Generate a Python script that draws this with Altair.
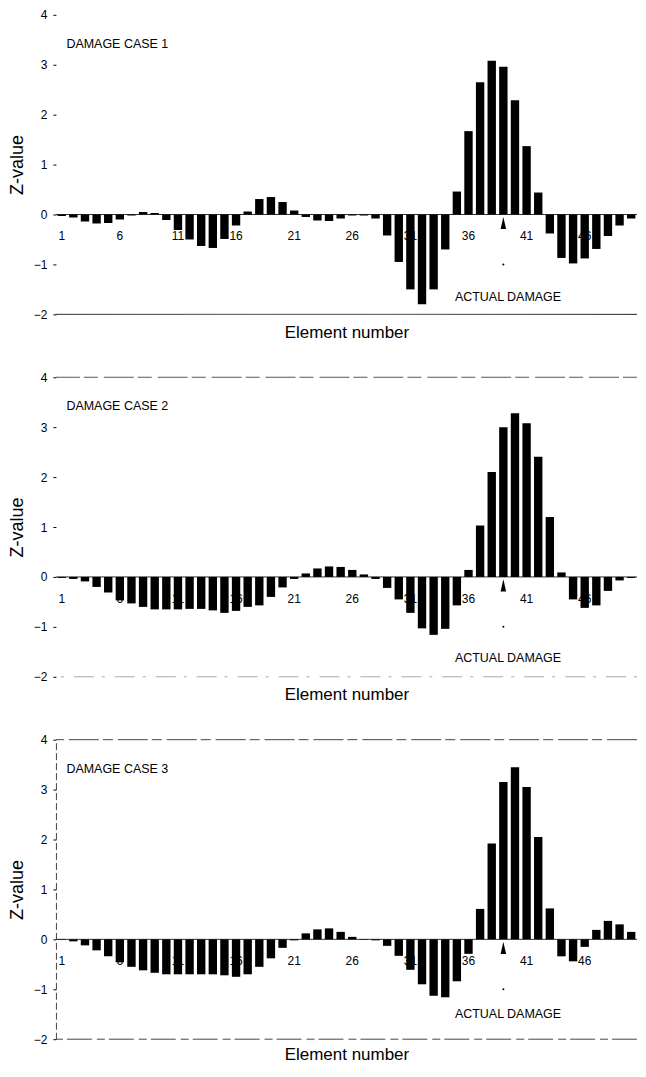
import altair as alt
import pandas as pd

# ---------------- data ----------------
elements = list(range(1, 51))

case1 = [-0.03, -0.06, -0.14, -0.18, -0.17, -0.10, -0.02, 0.05, 0.03, -0.11,
         -0.31, -0.50, -0.63, -0.67, -0.49, -0.22, 0.06, 0.31, 0.35, 0.25,
         0.08, -0.05, -0.12, -0.13, -0.08, -0.02, -0.02, -0.08, -0.42, -0.95,
         -1.50, -1.80, -1.50, -0.70, 0.46, 1.67, 2.65, 3.08, 2.96, 2.29,
         1.37, 0.44, -0.38, -0.87, -0.98, -0.88, -0.69, -0.43, -0.22, -0.08]

case2 = [-0.02, -0.04, -0.09, -0.20, -0.31, -0.47, -0.53, -0.60, -0.65, -0.65,
         -0.65, -0.64, -0.64, -0.67, -0.72, -0.68, -0.60, -0.57, -0.40, -0.21,
         -0.04, 0.07, 0.17, 0.21, 0.20, 0.14, 0.05, -0.04, -0.22, -0.45,
         -0.72, -1.03, -1.16, -1.04, -0.57, 0.14, 1.03, 2.10, 3.00, 3.28,
         3.08, 2.41, 1.20, 0.09, -0.45, -0.62, -0.57, -0.28, -0.07, -0.02]

case3 = [-0.01, -0.04, -0.12, -0.22, -0.34, -0.46, -0.55, -0.62, -0.67, -0.70,
         -0.70, -0.70, -0.70, -0.70, -0.72, -0.75, -0.70, -0.55, -0.38, -0.17,
         -0.02, 0.12, 0.20, 0.22, 0.15, 0.05, -0.01, -0.02, -0.13, -0.33,
         -0.61, -0.90, -1.13, -1.16, -0.84, -0.29, 0.61, 1.92, 3.15, 3.45,
         3.05, 2.05, 0.62, -0.34, -0.44, -0.15, 0.19, 0.37, 0.30, 0.15]

case_labels = ["DAMAGE CASE 1", "DAMAGE CASE 2", "DAMAGE CASE 3"]
tick_elements = [1, 6, 11, 16, 21, 26, 31, 36, 41, 46]
y_ticks = [-2, -1, 0, 1, 2, 3, 4]

damage_element = 39
damage_text = "ACTUAL DAMAGE"
damage_text_x = 39.4
damage_text_y = [-1.65, -1.62, -1.5]
case_label_x = 1.4
case_label_y = 3.42

FONT = "Liberation Sans"
W, H = 582, 300

x_scale = alt.Scale(domain=[0.5, 50.5], nice=False, zero=False)
y_scale = alt.Scale(domain=[-2, 4], nice=False, zero=False)


def make_panel(values, label, text_y, top_style, bottom_style, left_line, title_pad):
    x_axis = alt.Axis(title="Element number", labels=False, ticks=False,
                      domain=False, grid=False, titleFont=FONT,
                      titleFontSize=17, titleFontWeight="normal",
                      titleColor="black", titlePadding=title_pad)
    y_axis = alt.Axis(title="Z-value", values=y_ticks, grid=False,
                      domain=left_line, domainDash=[7, 3], domainColor="#444",
                      tickSize=3, tickColor="black", labelFont=FONT,
                      labelFontSize=12, labelColor="black", labelPadding=6,
                      titleFont=FONT, titleFontSize=18,
                      titleFontWeight="normal", titleColor="black",
                      titlePadding=7)

    X = lambda f: alt.X(f, scale=x_scale, axis=x_axis)
    Y = lambda f: alt.Y(f, scale=y_scale, axis=y_axis)

    bars_df = pd.DataFrame({"element": elements, "z": values})

    layers = []
    if top_style is not None:
        layers.append(
            alt.Chart(pd.DataFrame({"z": [4]}))
            .mark_rule(color=top_style[0], strokeDash=top_style[1], strokeWidth=1)
            .encode(y=Y("z:Q"))
        )
    layers.append(
        alt.Chart(pd.DataFrame({"z": [-2]}))
        .mark_rule(color=bottom_style[0], strokeDash=bottom_style[1], strokeWidth=1)
        .encode(y=Y("z:Q"))
    )
    layers.append(
        alt.Chart(pd.DataFrame({"z": [0]}))
        .mark_rule(color="#333", strokeWidth=1)
        .encode(y=Y("z:Q"))
    )
    layers.append(
        alt.Chart(pd.DataFrame({"element": tick_elements, "z": [0] * len(tick_elements)}))
        .mark_text(font=FONT, fontSize=12, dy=22, color="black")
        .encode(x=X("element:Q"), y=Y("z:Q"), text="element:Q")
    )
    layers.append(
        alt.Chart(bars_df)
        .transform_calculate(lo="datum.element - 0.36", hi="datum.element + 0.36", base="0")
        .mark_bar(color="black")
        .encode(x=X("lo:Q"), x2="hi:Q", y=Y("z:Q"), y2="base:Q")
    )
    layers.append(
        alt.Chart(pd.DataFrame({"element": [damage_element], "z": [-0.17]}))
        .mark_point(shape="M0,-1L0.45,1L-0.45,1Z", filled=True, size=150,
                    color="black", opacity=1)
        .encode(x=X("element:Q"), y=Y("z:Q"))
    )
    layers.append(
        alt.Chart(pd.DataFrame({"element": [damage_element], "z": [-1]}))
        .mark_point(filled=True, size=4, color="black", opacity=1)
        .encode(x=X("element:Q"), y=Y("z:Q"))
    )
    layers.append(
        alt.Chart(pd.DataFrame({"element": [damage_text_x], "z": [text_y],
                                "label": [damage_text]}))
        .mark_text(font=FONT, fontSize=12.5, color="black", align="center")
        .encode(x=X("element:Q"), y=Y("z:Q"), text="label:N")
    )
    layers.append(
        alt.Chart(pd.DataFrame({"element": [case_label_x], "z": [case_label_y],
                                "label": [label]}))
        .mark_text(font=FONT, fontSize=12.5, color="black", align="left")
        .encode(x=X("element:Q"), y=Y("z:Q"), text="label:N")
    )
    return alt.layer(*layers).properties(width=W, height=H)


p1 = make_panel(case1, case_labels[0], damage_text_y[0],
                None, ("#222", [1, 0]), False, 10)
p2 = make_panel(case2, case_labels[1], damage_text_y[1],
                ("#555", [14, 4, 30, 6]), ("#aaa", [3, 8, 20, 10]), False, 10)
p3 = make_panel(case3, case_labels[2], damage_text_y[2],
                ("#444", [30, 5, 10, 4]), ("#444", [25, 4, 8, 5]), True, 7)

chart = (
    alt.vconcat(p1, p2, p3, spacing=31)
    .properties(padding={"left": 0, "right": 0, "top": 0, "bottom": 0},
                background="white")
    .configure_view(stroke=None)
)

chart.save("out.html", embed_options={"renderer": "svg", "actions": False})
